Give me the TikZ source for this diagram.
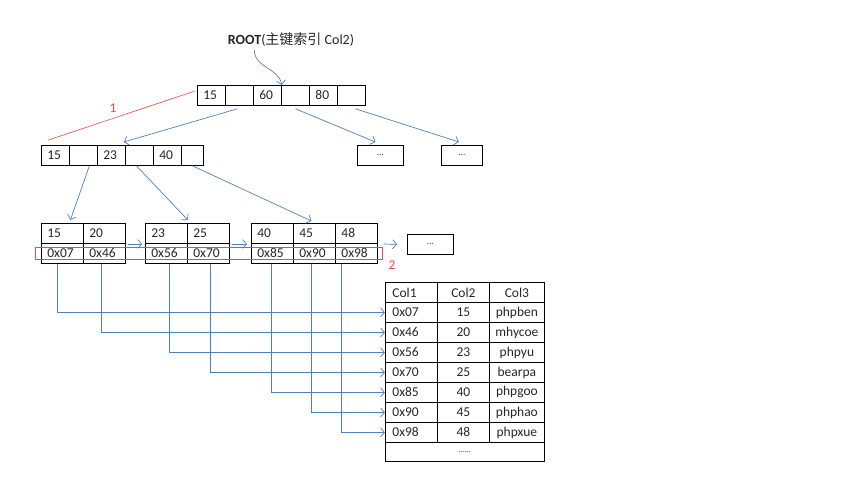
\documentclass[tikz,border=0pt]{standalone}
\usepackage{fontspec}
\setmainfont{Carlito}
\newfontfamily\cjk{Noto Sans CJK SC}
\usepackage{xcolor}
\usetikzlibrary{arrows.meta, positioning}
\definecolor{linkblue}{RGB}{79,129,189}
\definecolor{pathred}{RGB}{240,70,70}

\begin{document}
\begin{tikzpicture}[x=1pt, y=-1pt,
    font=\fontsize{13.5}{15}\selectfont,
    cell/.style={draw, anchor=north west, line width=0.8pt, minimum height=20pt,
        inner xsep=6pt, inner ysep=0pt, text width=#1, align=left, text=black!85},
    tcell/.style={draw, anchor=north west, line width=0.8pt, minimum height=20pt,
        minimum width=#1, inner sep=0pt, text=black!85},
    link/.style={linkblue, line width=0.7pt, -{Straight Barb[length=4pt, width=9pt]}},
    hilite/.style={pathred, line width=0.6pt}]
    \useasboundingbox (0,0) rectangle (853,479);

    % root
    \node[font=\fontsize{14}{16}\selectfont, text=black!85] (lbl) at (291,40)
        {\textbf{ROOT}({\cjk 主键索引} Col2)};
    \foreach \k [count=\i] in {15,{},60,{},80,{}}
        \node[cell=16pt] (r\i) at ({197+28*(\i-1)},85) {\k};
    \draw[link] ([xshift=30pt]lbl.south west) to[out=-90, in=100] (r3.north east);

    % level 2
    \foreach \k [count=\i] in {15,{},23,{},40}
        \node[cell=16pt] (a\i) at ({41+28*(\i-1)},145) {\k};
    \node[cell=10pt] (a6) at (181,145) {};
    \node[tcell=46pt, font=\small] (d1) at (357,145) {...};
    \node[tcell=41pt, font=\small] (d2) at (441,145) {...};
    \draw[link] ([xshift=-2pt, yshift=-3pt]r2.south) -- ([xshift=-2pt, yshift=3pt]a3.north east);
    \draw[link] ([yshift=-3pt]r4.south) -- ([xshift=-5pt, yshift=3pt]d1.north);
    \draw[link] ([xshift=4pt, yshift=-3pt]r6.south) -- ([xshift=-3pt, yshift=3pt]d2.north);

    % leaves
    \foreach \k/\p/\x in {15/07/41, 20/46/83, 23/56/145, 25/70/187, 40/85/251, 45/90/293, 48/98/335} {
        \node[cell=30pt] (k\k) at (\x,223) {\k};
        \node[cell=30pt] (p\p) at (\x,243) {0x\p};
    }
    \node[tcell=46pt, font=\small] (d3) at (407,234) {...};
    \draw[link] ([xshift=6pt]a2.south) -- ([xshift=8pt, yshift=3pt]k15.north);
    \draw[link] ([xshift=-3pt]a4.south) -- ([yshift=3pt]k23.north east);
    \draw[link] (a6.south) -- ([xshift=-3pt, yshift=2pt]k45.north);
    \draw[link] ([xshift=2pt, yshift=-1pt]p46.north east) -- ([xshift=-3pt, yshift=-1pt]p56.north west);
    \draw[link] ([xshift=2pt, yshift=-1pt]p70.north east) -- ([xshift=-4pt, yshift=-1pt]p85.north west);
    \draw[link] ([xshift=6pt, yshift=-1pt]p98.north east) -- ([xshift=-10pt]d3.west);

    % search path
    \draw[hilite] ([xshift=-2pt, yshift=-6pt]r1.north west) -- ([xshift=-7pt, yshift=5pt]a1.north);
    \node[text=pathred] (n1) at (113,108) {1};
    \draw[hilite] (35,247) rectangle (382,259);
    \node[text=pathred] (n2) at (392,265) {2};

    % table
    \node[cell=38pt, inner xsep=7pt] (th1) at (385,282) {Col1};
    \node[tcell=52pt] (th2) at (437,282) {Col2};
    \node[tcell=55pt] (th3) at (489,282) {Col3};
    \foreach \a/\b/\c [count=\i] in {0x07/15/phpben, 0x46/20/mhycoe, 0x56/23/phpyu,
            0x70/25/bearpa, 0x85/40/phpgoo, 0x90/45/phphao, 0x98/48/phpxue} {
        \node[cell=38pt, inner xsep=7pt] (t\i) at (385,{282+20*\i}) {\a};
        \node[tcell=52pt] (u\i) at (437,{282+20*\i}) {\b};
        \node[tcell=55pt] (v\i) at (489,{282+20*\i}) {\c};
    }
    \node[tcell=159pt, minimum height=19pt, font=\footnotesize] (tend) at (385,442) {......};
    \foreach \p/\s [count=\i] in {07/-5, 46/-3, 56/3, 70/2, 85/-1, 90/-3, 98/-15}
        \draw[link] ([xshift=\s pt]p\p.south) |- (t\i.west);
\end{tikzpicture}
\end{document}
